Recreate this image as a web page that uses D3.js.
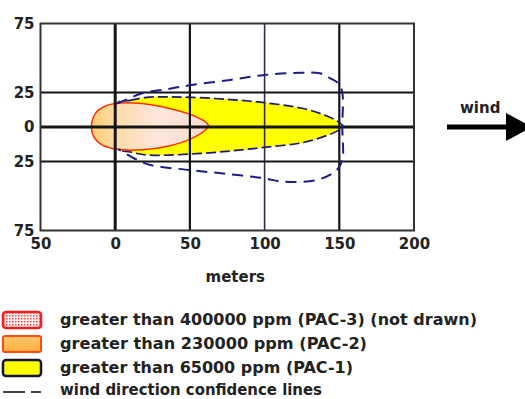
<!DOCTYPE html>
<html>
<head>
<meta charset="utf-8">
<script src="https://cdn.jsdelivr.net/npm/d3@7/dist/d3.min.js"></script>
<style>
  body { margin: 0; background: #fff; }
  svg { display: block; }
  text { font-family: "DejaVu Sans", Verdana, sans-serif; font-weight: bold; fill: #222; }
</style>
</head>
<body>
<svg id="chart" width="525" height="399"></svg>
<script>
// Axis ticks (meters)
const xTicks = [-50, 0, 50, 100, 150, 200];
const yTicks = [75, 25, 0, -25, -75];

// Threat zone outlines, [downwind m, crosswind m]
const pac1Zone = [
  [1.5, 17.5], [10, 19.3], [21, 21.5], [35, 21.8], [51, 21.5], [77, 19.9],
  [100, 17.6], [125, 13.6], [140, 8.7], [148.5, 4.3], [152.5, 0.5],
  [148.5, -3], [142.5, -5.8], [125, -11.4], [100, -14.7], [77, -17.4],
  [51, -19.6], [22, -20.3], [10, -18.1], [2, -16], [-2, 0]
];
const pac2Zone = [
  [-15.9, 0.5], [-13.2, 9.9], [-6.6, 15.2], [1.3, 17.2], [18, 17.0],
  [35.8, 13.6], [51.4, 8.7], [60.3, 3.8], [62.5, 0.8], [60.3, -2.2],
  [51.4, -8.2], [35.8, -13.8], [18, -16.5], [1.3, -16.2], [-8.8, -13], [-14.4, -7]
];
const confidenceLine = [
  [1, 17], [10, 21], [18, 24.4], [35, 27.5], [51, 30.4], [77, 34.1],
  [100, 37.7], [124, 39.3], [137, 38.9], [144, 35.3], [149.5, 31.5],
  [152, 25], [152, 0], [152, -24], [148.3, -31.2], [135, -38.4],
  [112, -39.6], [100, -37.2], [75, -34], [50, -31.2], [23.5, -27.5],
  [13.5, -23.2], [2, -16]
];

// Legend
const legendLabels = [
  "greater than 400000 ppm (PAC-3) (not drawn)",
  "greater than 230000 ppm (PAC-2)",
  "greater than 65000 ppm (PAC-1)",
  "wind direction confidence lines"
];
const legendWidths = [417, 307, 293, 262];
const axisTitle = "meters";
const windLabel = "wind";

const svg = d3.select("#chart");
const x = d3.scaleLinear().domain([-50, 200]).range([40.5, 414]);
const y = d3.scaleLinear().domain([-75, 75]).range([230.5, 23.5]);

const defs = svg.append("defs");
const grad = defs.append("linearGradient")
  .attr("id", "pac2Fill").attr("gradientUnits", "userSpaceOnUse")
  .attr("x1", x(-16)).attr("x2", x(63)).attr("y1", 0).attr("y2", 0);
[[0, "#ffcf76"], [0.25, "#fedcae"], [0.55, "#fde7dc"], [1, "#fbdccf"]]
  .forEach(([o, c]) => grad.append("stop").attr("offset", o).attr("stop-color", c));

const swGrad = defs.append("linearGradient")
  .attr("id", "pac2Swatch").attr("x1", 0).attr("x2", 0).attr("y1", 0).attr("y2", 1);
[[0, "#ffc870"], [1, "#ffad3d"]]
  .forEach(([o, c]) => swGrad.append("stop").attr("offset", o).attr("stop-color", c));

const dots = defs.append("pattern").attr("id", "pac3Dots")
  .attr("patternUnits", "userSpaceOnUse").attr("width", 3).attr("height", 3);
dots.append("rect").attr("width", 3).attr("height", 3).attr("fill", "#fff0f0");
dots.append("rect").attr("width", 1.5).attr("height", 1.5).attr("fill", "#ff4a4a");

// Threat zones
const closed = d3.line().x(d => x(d[0])).y(d => y(d[1])).curve(d3.curveCatmullRomClosed.alpha(0.5));
const open = d3.line().x(d => x(d[0])).y(d => y(d[1])).curve(d3.curveCatmullRom.alpha(0.5));

svg.append("path").attr("d", closed(pac1Zone))
  .attr("fill", "#ffff00").attr("stroke", "#1a1a7a")
  .attr("stroke-width", 1.7).attr("stroke-dasharray", "10,4");

svg.append("path").attr("d", closed(pac2Zone))
  .attr("fill", "url(#pac2Fill)").attr("stroke", "#ff3000").attr("stroke-width", 1.5);

// Grid
const grid = svg.append("g");
grid.selectAll("line.vx").data(xTicks.slice(1, -1)).join("line")
  .attr("x1", d => x(d)).attr("x2", d => x(d))
  .attr("y1", y(75)).attr("y2", y(-75))
  .attr("stroke", d => d === 100 ? "#2e2e55" : "#151515")
  .attr("stroke-width", d => d === 0 ? 3 : d === 100 ? 1.6 : 2.2);
grid.selectAll("line.hy").data(yTicks.slice(1, -1)).join("line")
  .attr("x1", x(-50)).attr("x2", x(200))
  .attr("y1", d => y(d)).attr("y2", d => y(d))
  .attr("stroke", "#151515")
  .attr("stroke-width", d => d === 0 ? 3 : 2.2);

// Wind direction confidence lines
svg.append("path").attr("d", open(confidenceLine))
  .attr("fill", "none").attr("stroke", "#1c1c85")
  .attr("stroke-width", 2).attr("stroke-dasharray", "11,7");

// Frame
svg.append("rect")
  .attr("x", x(-50)).attr("y", y(75))
  .attr("width", x(200) - x(-50)).attr("height", y(-75) - y(75))
  .attr("fill", "none").attr("stroke", "#333").attr("stroke-width", 2);

// Axes
const yAxis = svg.append("g").attr("transform", `translate(${x(-50)},0)`)
  .call(d3.axisLeft(y).tickValues(yTicks).tickSize(0).tickPadding(6).tickFormat(d => Math.abs(d)));
const xAxis = svg.append("g").attr("transform", `translate(0,${y(-75)})`)
  .call(d3.axisBottom(x).tickValues(xTicks).tickSize(0).tickPadding(8).tickFormat(d => Math.abs(d)));
[xAxis, yAxis].forEach(g => {
  g.select(".domain").remove();
  g.selectAll("text").attr("font-size", 15).attr("font-family", null).attr("fill", "#222");
});

svg.append("text").attr("x", (x(50) + x(100)) / 2 + 8).attr("y", 282)
  .attr("text-anchor", "middle").attr("font-size", 15).text(axisTitle);

// Wind arrow
svg.append("text").attr("x", 460).attr("y", 113).attr("font-size", 15).text(windLabel);
svg.append("line").attr("x1", 447).attr("x2", 512).attr("y1", 127).attr("y2", 127)
  .attr("stroke", "#000").attr("stroke-width", 5);
svg.append("path").attr("d", "M506,113 L532,127 L506,141 Z").attr("fill", "#000");

// Legend
const rowY = [320, 344, 368, 390];
const leg = svg.append("g");
leg.append("rect").attr("x", 3).attr("y", rowY[0] - 8).attr("width", 38).attr("height", 16).attr("rx", 3)
  .attr("fill", "url(#pac3Dots)").attr("stroke", "#ff1a1a").attr("stroke-width", 2.5);
leg.append("rect").attr("x", 3).attr("y", rowY[1] - 8).attr("width", 38).attr("height", 16).attr("rx", 2)
  .attr("fill", "url(#pac2Swatch)").attr("stroke", "#ff4a10").attr("stroke-width", 2);
leg.append("rect").attr("x", 3).attr("y", rowY[2] - 8).attr("width", 38).attr("height", 16).attr("rx", 3)
  .attr("fill", "#ffff00").attr("stroke", "#14143a").attr("stroke-width", 2.5);
leg.append("line").attr("x1", 3).attr("x2", 25).attr("y1", rowY[3] + 2).attr("y2", rowY[3] + 2)
  .attr("stroke", "#444").attr("stroke-width", 2);
leg.append("line").attr("x1", 31).attr("x2", 41).attr("y1", rowY[3] + 2).attr("y2", rowY[3] + 2)
  .attr("stroke", "#444").attr("stroke-width", 2);
leg.selectAll("text.lab").data(legendLabels).join("text")
  .attr("x", 60).attr("y", (d, i) => rowY[i] + 5)
  .attr("font-size", 15)
  .attr("textLength", (d, i) => legendWidths[i])
  .attr("lengthAdjust", "spacingAndGlyphs")
  .text(d => d);
</script>
</body>
</html>
